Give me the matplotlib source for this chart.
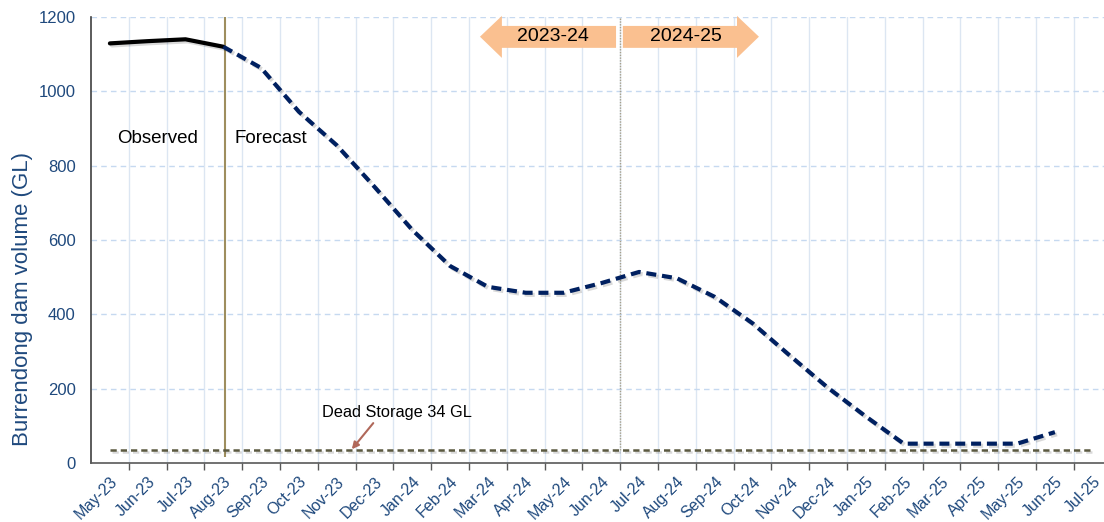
import matplotlib
matplotlib.use("Agg")
import matplotlib.pyplot as plt
import matplotlib.patheffects as pe
from matplotlib.patches import Polygon
import numpy as np

plt.rcParams['font.family'] = ['Liberation Sans', 'DejaVu Sans']

# category axis: one label per month
months = ["May-23", "Jun-23", "Jul-23", "Aug-23", "Sep-23", "Oct-23", "Nov-23",
          "Dec-23", "Jan-24", "Feb-24", "Mar-24", "Apr-24", "May-24", "Jun-24",
          "Jul-24", "Aug-24", "Sep-24", "Oct-24", "Nov-24", "Dec-24", "Jan-25",
          "Feb-25", "Mar-25", "Apr-25", "May-25", "Jun-25", "Jul-25"]

# observed volume, May-23 .. Aug-23 (GL)
observed = [1129, 1135, 1140, 1120]

# forecast volume, Aug-23 .. Jun-25 (GL)
forecast = [1120, 1063, 945, 855, 743, 627, 530, 474, 458, 458, 484, 514,
            497, 447, 376, 288, 202, 125, 52, 52, 52, 52, 83]

dead_storage = 34
yticks = [0, 200, 400, 600, 800, 1000, 1200]

tick_col = "#1f497d"
x = np.arange(len(months))

fig = plt.figure(figsize=(11.04, 5.22), dpi=100)
# axes runs slightly past the right edge, as in the original crop
ax = fig.add_axes([91 / 1104, 59 / 522, 1020.6 / 1104, 446 / 522])

ax.set_xlim(-0.5, len(months) - 0.5)
ax.set_ylim(0, 1200)

# grid
for b in np.arange(0.5, len(months) - 0.5, 1):
    ax.axvline(b, color="#dce6f2", lw=1, zorder=0)
for yv in yticks[1:]:
    ax.axhline(yv, color="#c6d9f0", lw=1, ls=(0, (4, 3)), zorder=0)

shadow = [pe.SimpleLineShadow(offset=(1.5, -1.5), alpha=0.15, shadow_color="#000000"),
          pe.Normal()]

# dead storage line
ax.hlines(dead_storage, 0, len(months) - 1, color="#5b5940", lw=1.8,
          ls=(0, (2.5, 1.6)), zorder=3, path_effects=shadow)

# observed / forecast separator and financial year boundary
ax.vlines(3.05, 16, 1200, color="#9e8e5e", lw=1.5, zorder=2)
ax.vlines(13.5, dead_storage, 1200, color="#a8a08a", lw=1.0, ls=(0, (1, 1)), zorder=2)

ax.plot(x[:len(observed)], observed, color="black", lw=3, zorder=4,
        solid_capstyle="round", path_effects=shadow)
ax.plot(x[3:3 + len(forecast)], forecast, color="#002060", lw=3,
        ls=(0, (2.4, 1.4)), zorder=4, path_effects=shadow)

# financial-year arrows
arrow_col = "#fac090"
left_arrow = [(9.79, 1147), (10.37, 1203), (10.37, 1176), (13.39, 1176),
              (13.39, 1117), (10.37, 1117), (10.37, 1090)]
right_arrow = [(17.17, 1147), (16.59, 1203), (16.59, 1176), (13.57, 1176),
               (13.57, 1117), (16.59, 1117), (16.59, 1090)]
for pts in (left_arrow, right_arrow):
    ax.add_patch(Polygon(pts, closed=True, facecolor=arrow_col, edgecolor="none",
                         zorder=5, clip_on=False))
ax.text(11.72, 1147, "2023-24", ha="center", va="center", fontsize=14, zorder=6)
ax.text(15.25, 1147, "2024-25", ha="center", va="center", fontsize=14, zorder=6)

ax.text(0.2, 873, "Observed", ha="left", va="center", fontsize=13.5)
ax.text(3.3, 873, "Forecast", ha="left", va="center", fontsize=13.5)

ax.annotate("Dead Storage 34 GL", xy=(6.4, 37), xytext=(5.6, 135),
            fontsize=11.8, ha="left", va="center",
            arrowprops=dict(arrowstyle="-|>", color="#b0685a", lw=1.5,
                            shrinkA=0, shrinkB=0, mutation_scale=10,
                            relpos=(0.36, 0)))

# axes styling
for s in ("top", "right"):
    ax.spines[s].set_visible(False)
ax.spines["left"].set_color("#404040")
ax.spines["left"].set_linewidth(1.2)
ax.spines["bottom"].set_color("#595959")
ax.spines["bottom"].set_linewidth(1.2)

ax.set_yticks(yticks)
ax.set_yticklabels([str(v) for v in yticks], fontsize=12, color=tick_col)
ax.tick_params(axis="y", length=0, pad=11)

ax.set_xticks(x)
ax.set_xticklabels(months, rotation=45, ha="right", rotation_mode="anchor",
                   fontsize=11.5, color=tick_col)
ax.tick_params(axis="x", which="major", length=0, pad=8)
ax.set_xticks(np.arange(0.5, len(months) - 0.5, 1), minor=True)
ax.tick_params(axis="x", which="minor", length=5, color="#595959", width=1)

# axis title sits below the axis middle, as in the original
ax.set_ylabel("Burrendong dam volume (GL)", fontsize=16, color=tick_col)
ax.yaxis.set_label_coords(-0.057, 0.368)

fig.savefig("out.png", dpi=100)
